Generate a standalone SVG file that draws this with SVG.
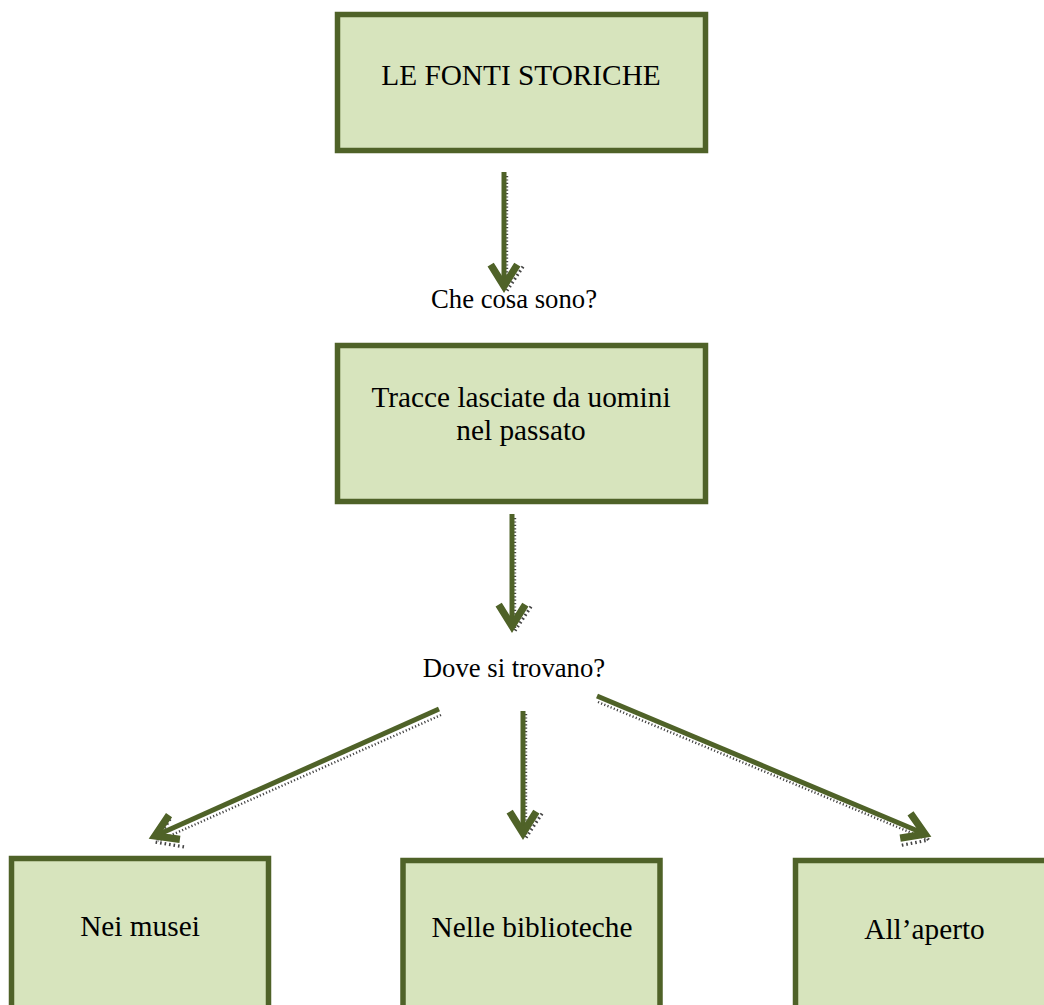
<svg xmlns="http://www.w3.org/2000/svg" width="1044" height="1005" viewBox="0 0 1044 1005">
  <style>
    .box { fill: #d7e4bd; stroke: #4f6228; stroke-width: 5.5; }
    .label { font-family: "Liberation Serif", "Times New Roman", serif; fill: #000; text-anchor: middle; }
    .big { font-size: 29.3px; }
    .small { font-size: 26.7px; }
    .arrow { fill: none; stroke: #4f6228; stroke-width: 5; }
    .shadow { fill: none; stroke: #444; stroke-width: 2.4; stroke-dasharray: 1.2 2.2; }
  </style>
  <defs>
    <marker id="head" markerUnits="userSpaceOnUse" markerWidth="40" markerHeight="40" viewBox="-24 -14 30 28" refX="0" refY="0" orient="auto" overflow="visible">
      <path d="M-16,-10 L0,0 L-16,10" fill="none" stroke="#4f6228" stroke-width="5.5" stroke-linejoin="miter"/>
    </marker>
    <marker id="headShadow" markerUnits="userSpaceOnUse" markerWidth="40" markerHeight="40" viewBox="-24 -14 30 28" refX="0" refY="0" orient="auto" overflow="visible">
      <path d="M-16,-12 L2,0 L-16,12" fill="none" stroke="#444" stroke-width="2.4" stroke-dasharray="1.2 2.2"/>
    </marker>
  </defs>

  <!-- connectors: dotted drop shadow under each olive arrow -->
  <g id="connectors">
    <g id="shadows">
      <line class="shadow" x1="507" y1="176" x2="507" y2="288" marker-end="url(#headShadow)"/>
      <line class="shadow" x1="515" y1="518" x2="515" y2="628" marker-end="url(#headShadow)"/>
      <line class="shadow" x1="526" y1="714" x2="526" y2="835" marker-end="url(#headShadow)"/>
      <line class="shadow" x1="441" y1="715" x2="158" y2="841" marker-end="url(#headShadow)"/>
      <line class="shadow" x1="598" y1="702" x2="926" y2="839" marker-end="url(#headShadow)"/>
    </g>
    <line class="arrow" x1="504" y1="172" x2="504" y2="286" marker-end="url(#head)"/>
    <line class="arrow" x1="512" y1="514" x2="512" y2="626" marker-end="url(#head)"/>
    <line class="arrow" x1="523" y1="711" x2="523" y2="833" marker-end="url(#head)"/>
    <line class="arrow" x1="439" y1="709" x2="155" y2="836" marker-end="url(#head)"/>
    <line class="arrow" x1="597" y1="696" x2="925" y2="834" marker-end="url(#head)"/>
  </g>

  <g id="label-che-cosa">
    <text class="label small" x="514" y="308">Che cosa sono?</text>
  </g>
  <g id="label-dove">
    <text class="label small" x="514" y="677">Dove si trovano?</text>
  </g>

  <g id="node-fonti">
    <rect class="box" x="337.5" y="14.5" width="368" height="136"/>
    <text class="label big" x="521" y="85">LE FONTI STORICHE</text>
  </g>

  <g id="node-tracce">
    <rect class="box" x="337.5" y="345.5" width="368" height="156"/>
    <text class="label big" x="521" y="407">Tracce lasciate da uomini</text>
    <text class="label big" x="521" y="440">nel passato</text>
  </g>

  <g id="node-musei">
    <rect class="box" x="11.5" y="858.5" width="257" height="170"/>
    <text class="label big" x="140" y="936">Nei musei</text>
  </g>

  <g id="node-biblioteche">
    <rect class="box" x="403" y="860.5" width="257" height="170"/>
    <text class="label big" x="532" y="937">Nelle biblioteche</text>
  </g>

  <g id="node-aperto">
    <rect class="box" x="795.5" y="860.5" width="257" height="170"/>
    <text class="label big" x="924.5" y="939">All’aperto</text>
  </g>
</svg>
